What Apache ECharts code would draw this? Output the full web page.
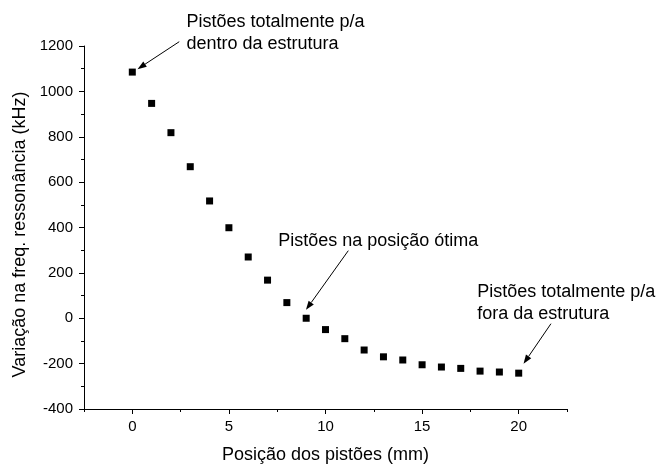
<!DOCTYPE html>
<html>
<head>
<meta charset="utf-8">
<script src="https://cdn.jsdelivr.net/npm/echarts@6/dist/echarts.min.js"></script>
<style>
  html, body { margin: 0; padding: 0; background: #fff; }
  #chart { width: 657px; height: 469px; }
</style>
</head>
<body>
<div id="chart"></div>
<script>
// Piston position (mm) vs. resonance-frequency shift (kHz)
const positions = [0, 1, 2, 3, 4, 5, 6, 7, 8, 9, 10, 11, 12, 13, 14, 15, 16, 17, 18, 19, 20];
const freqShift = [1085, 947, 818, 668, 517, 399, 270, 168, 69, 0, -50, -90, -140, -170, -184, -205, -215, -221, -233, -237, -242];

const xMajorTicks = [0, 5, 10, 15, 20];
const xMinorTicks = [-2.5, 2.5, 7.5, 12.5, 17.5, 22.5];

// Callouts: text anchor (top-left), arrow tail and arrow head, in data units
const notes = [
  { text: 'Pistões totalmente p/a\ndentro da estrutura', at: [2.8, 1352], tail: [2.43, 1219], head: [0.27, 1098] },
  { text: 'Pistões na posição ótima', at: [7.55, 388], tail: [11.18, 298], head: [8.99, 37] },
  { text: 'Pistões totalmente p/a\nfora da estrutura', at: [17.85, 165], tail: [21.67, -24], head: [20.25, -201] }
];

const FONT = "'Liberation Sans', Arial, Helvetica, sans-serif";
const chart = echarts.init(document.getElementById('chart'));

const baseX = {
  type: 'value', min: -2.5, max: 22.5, position: 'bottom',
  splitLine: { show: false }
};

chart.setOption({
  animation: false,
  backgroundColor: '#fff',
  grid: { left: 84, right: 90, top: 46, bottom: 56, containLabel: false },
  xAxis: [
    Object.assign({}, baseX, {
      name: 'Posição dos pistões (mm)',
      nameLocation: 'middle', nameGap: 37,
      nameTextStyle: { fontFamily: FONT, fontSize: 18, color: '#000' },
      axisLine: { show: true, onZero: false, lineStyle: { color: '#000', width: 1 } },
      axisTick: { show: true, inside: false, length: 5, customValues: xMajorTicks, lineStyle: { color: '#000' } },
      axisLabel: { customValues: xMajorTicks, margin: 10, fontFamily: FONT, fontSize: 15, color: '#000' }
    }),
    Object.assign({}, baseX, {
      axisLine: { show: false, onZero: false },
      axisTick: { show: true, inside: false, length: 3, customValues: xMinorTicks, lineStyle: { color: '#000' } },
      axisLabel: { show: false }
    })
  ],
  yAxis: {
    type: 'value', min: -400, max: 1200, interval: 200,
    name: 'Variação na freq. ressonância (kHz)',
    nameLocation: 'middle', nameGap: 44,
    nameTextStyle: { fontFamily: FONT, fontSize: 18, color: '#000', padding: [0, 14, 0, 0] },
    axisLine: { show: true, onZero: false, lineStyle: { color: '#000', width: 1 } },
    axisTick: { show: true, inside: false, length: 5, lineStyle: { color: '#000' } },
    minorTick: { show: true, splitNumber: 2, length: 3, lineStyle: { color: '#000' } },
    axisLabel: { margin: 11, fontFamily: FONT, fontSize: 15, color: '#000', formatter: v => String(v) },
    splitLine: { show: false }
  },
  series: [{
    type: 'scatter',
    symbol: 'rect',
    symbolSize: 7,
    itemStyle: { color: '#000', opacity: 1 },
    data: positions.map((p, i) => [p, freqShift[i]])
  }]
});

// Callout texts and arrows, placed through the chart's own scales
function arrow(tail, head) {
  const dx = head[0] - tail[0], dy = head[1] - tail[1];
  const len = Math.hypot(dx, dy), ux = dx / len, uy = dy / len;
  const hl = 9, hw = 3.2;
  const bx = head[0] - ux * hl, by = head[1] - uy * hl;
  return [
    { type: 'line', shape: { x1: tail[0], y1: tail[1], x2: bx, y2: by }, style: { stroke: '#000', lineWidth: 1 } },
    { type: 'polygon', shape: { points: [head, [bx - uy * hw, by + ux * hw], [bx + uy * hw, by - ux * hw]] }, style: { fill: '#000' } }
  ];
}

const elements = [];
notes.forEach(n => {
  const p = chart.convertToPixel({ gridIndex: 0 }, n.at);
  elements.push({
    type: 'text', x: p[0], y: p[1],
    style: { text: n.text, font: '18px ' + FONT, fill: '#000', lineHeight: 22, textAlign: 'left', textVerticalAlign: 'top' }
  });
  const t = chart.convertToPixel({ gridIndex: 0 }, n.tail);
  const h = chart.convertToPixel({ gridIndex: 0 }, n.head);
  elements.push(...arrow(t, h));
});
chart.setOption({ graphic: elements });
</script>
</body>
</html>
